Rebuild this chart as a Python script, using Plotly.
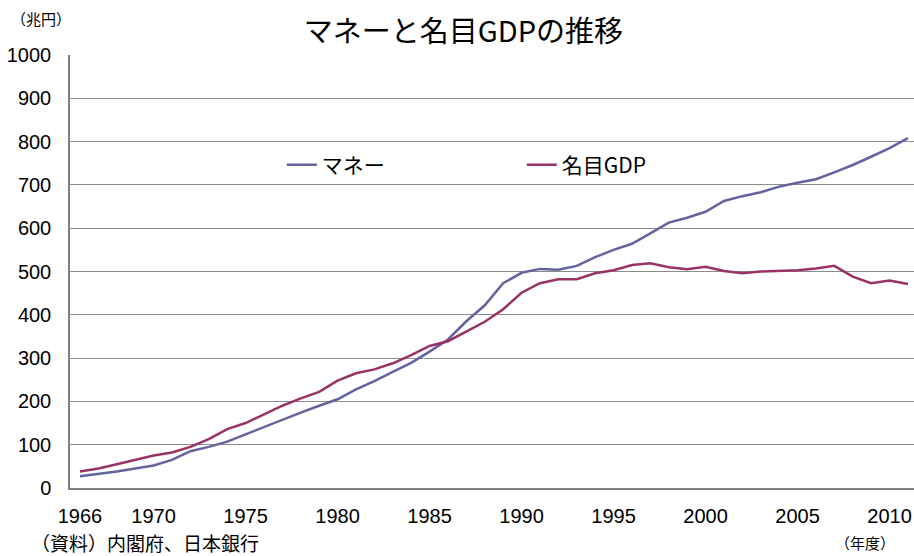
import plotly.graph_objects as go

years = list(range(1966, 2012))
money = [27, 32, 38, 45, 52, 65, 85, 95, 107, 124, 141, 157, 174, 190, 205,
         228, 247, 268, 289, 315, 343, 385, 422, 473, 497, 506, 504, 513, 533,
         550, 564, 588, 613, 624, 638, 663, 674, 683, 696, 705, 713, 729, 746,
         765, 785, 808]
gdp = [38, 45, 55, 65, 75, 82, 95, 113, 136, 150, 170, 190, 207, 222, 248,
       265, 274, 288, 307, 328, 339, 361, 384, 413, 451, 473, 482, 482, 496,
       503, 515, 519, 510, 505, 511, 501, 496, 500, 501, 503, 507, 513, 488,
       473, 479, 471]
x_ticks = [1966, 1970, 1975, 1980, 1985, 1990, 1995, 2000, 2005, 2010]
y_ticks = list(range(0, 1001, 100))

FONT = "Liberation Sans, Noto Sans CJK JP, sans-serif"
JFONT = "Noto Sans CJK JP, sans-serif"

fig = go.Figure()
fig.add_trace(go.Scatter(x=years, y=money, mode="lines", name="マネー",
                         line=dict(color="#63639f", width=2.5)))
fig.add_trace(go.Scatter(x=years, y=gdp, mode="lines", name="名目GDP",
                         line=dict(color="#993366", width=2.5)))

fig.update_layout(
    width=914, height=556,
    margin=dict(l=70, r=0, t=55, b=68, autoexpand=False),
    paper_bgcolor="white", plot_bgcolor="white",
    font=dict(family=FONT, size=20, color="black"),
    title=dict(text="マネーと名目GDPの推移", x=0.507, xanchor="center",
               y=0.942, yanchor="middle",
               font=dict(family=JFONT, size=29, color="black")),
    showlegend=True,
    legend=dict(orientation="h", x=0.251, xanchor="left", y=0.746,
                yanchor="middle", bgcolor="rgba(0,0,0,0)",
                entrywidth=195, entrywidthmode="pixels",
                font=dict(family=JFONT, size=21, color="black")),
    xaxis=dict(range=[1965.457, 2011.33], tickmode="array", tickvals=x_ticks,
               ticktext=[str(v) for v in x_ticks], showgrid=False,
               showline=True, linecolor="#808080", linewidth=1.5,
               zeroline=False, ticks="", ticklabelstandoff=9,
               automargin=False),
    yaxis=dict(range=[0, 1000], tickmode="array", tickvals=y_ticks,
               showgrid=True, gridcolor="#8c8c8c", gridwidth=1,
               showline=True, linecolor="#808080", linewidth=1.5,
               zeroline=False, ticks="", ticklabelstandoff=13,
               automargin=False),
    annotations=[
        dict(text="（兆円）", xref="paper", yref="paper", x=-0.034, y=1.085,
             xanchor="center", yanchor="middle", showarrow=False,
             font=dict(family=JFONT, size=15, color="black")),
        dict(text="（資料）内閣府、日本銀行", xref="paper", yref="paper",
             x=-0.049, y=-0.125, xanchor="left", yanchor="middle",
             showarrow=False, font=dict(family=JFONT, size=19, color="black")),
        dict(text="（年度）", xref="paper", yref="paper", x=0.942, y=-0.127,
             xanchor="center", yanchor="middle", showarrow=False,
             font=dict(family=JFONT, size=15, color="black")),
    ],
)

fig.write_html(
    "out.html",
    config={"displayModeBar": False},
    post_script="document.body.style.margin='0';"
                "document.body.style.overflow='hidden';",
)
